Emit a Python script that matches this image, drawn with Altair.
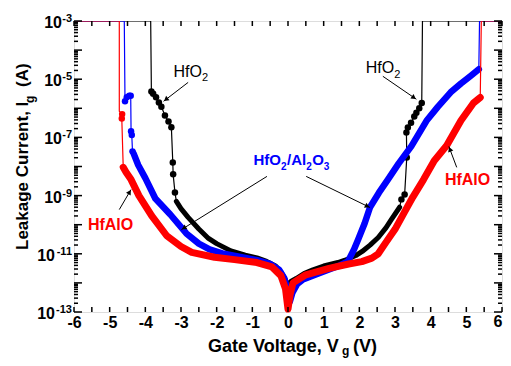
import math
import altair as alt
import pandas as pd

FONT = "Liberation Sans"
W, H = 428, 291
PX_PER_V = W / 12.0
PX_PER_DEC = H / 10.0

# ---------------- values: gate voltage (V), log10 of leakage current (A) -------------
# HfO2 (black)
black_head_v = [-6.0, -3.85]
black_head_e = [-3.0, -3.0]
black_ldot_v = [-3.83, -3.78, -3.70, -3.62, -3.55, -3.45, -3.35, -3.27, -3.23, -3.22, -3.17]
black_ldot_e = [-5.42, -5.50, -5.62, -5.80, -5.95, -6.25, -6.45, -6.65, -7.86, -8.27, -8.89]
black_band_v = [-3.13, -3.0, -2.8, -2.5, -2.25, -2.0, -1.6, -1.2, -0.87, -0.6, -0.35, -0.2, -0.08, 0.0,
                0.08, 0.23, 0.45, 0.7, 1.0, 1.4, 1.6, 1.9, 2.08, 2.3, 2.53, 2.75, 2.9, 3.13]
black_band_e = [-9.2, -9.45, -9.75, -10.15, -10.45, -10.65, -10.9, -11.05, -11.14, -11.26, -11.42, -11.62,
                -11.88, -12.15, -11.95, -11.85, -11.68, -11.55, -11.42, -11.3, -11.22, -11.06, -10.92,
                -10.7, -10.44, -10.1, -9.82, -9.4]
black_rdot_v = [3.18, 3.27, 3.33, 3.32, 3.36, 3.45, 3.54, 3.60, 3.68, 3.75]
black_rdot_e = [-9.13, -8.96, -7.69, -6.83, -6.66, -6.5, -6.28, -6.15, -6.0, -5.82]
black_tail_v = [3.77, 6.0]
black_tail_e = [-3.0, -3.0]

# HfO2/Al2O3 (blue)
blue_head_v = [-6.0, -4.59]
blue_head_e = [-3.0, -3.0]
blue_ldot_v = [-4.57, -4.52, -4.45, -4.41, -4.40, -4.38, -4.36]
blue_ldot_e = [-5.76, -5.62, -5.57, -5.57, -6.79, -6.92, -7.48]
blue_band_v = [-4.33, -4.2, -4.0, -3.72, -3.3, -2.85, -2.5, -2.2, -1.8, -1.3, -0.87, -0.5, -0.25, -0.1,
               0.0, 0.05, 0.12, 0.25, 0.42, 0.8, 1.15, 1.45, 1.68, 1.85, 1.97, 2.15, 2.3, 2.55, 2.8,
               3.1, 3.46, 3.9, 4.2, 4.56, 4.85, 5.11, 5.35]
blue_band_e = [-7.55, -7.95, -8.4, -9.1, -9.65, -10.3, -10.65, -10.85, -11.0, -11.12, -11.22, -11.35,
               -11.55, -11.85, -12.3, -12.65, -12.35, -12.05, -11.88, -11.7, -11.54, -11.4, -11.26,
               -10.85, -10.5, -9.95, -9.4, -8.9, -8.45, -7.9, -7.3, -6.4, -5.95, -5.45, -5.15, -4.9, -4.66]
blue_tail_v = [5.37, 6.0]
blue_tail_e = [-3.0, -3.0]

# HfAlO (red)
red_head_v = [-6.0, -4.73, -4.73]
red_head_e = [-3.0, -3.0, -6.1]
red_ldot_v = [-4.65, -4.66]
red_ldot_e = [-6.2, -6.35]
red_band_v = [-4.62, -4.54, -4.4, -4.18, -3.82, -3.4, -3.0, -2.7, -2.06, -1.5, -0.87, -0.45, -0.2, -0.07,
              0.0, 0.06, 0.14, 0.5, 1.15, 1.7, 2.07, 2.35, 2.53, 2.75, 3.0, 3.25, 3.5, 3.8, 4.1, 4.45,
              4.85, 5.2, 5.39]
red_band_e = [-8.03, -8.2, -8.45, -9.0, -9.7, -10.38, -10.75, -10.95, -11.12, -11.2, -11.3, -11.45,
              -11.75, -12.2, -12.9, -12.4, -12.0, -11.72, -11.5, -11.35, -11.27, -11.15, -11.0, -10.6,
              -10.16, -9.6, -9.05, -8.45, -7.8, -7.28, -6.42, -5.82, -5.63]
red_tail_v = [5.42, 6.0]
red_tail_e = [-3.0, -3.0]

# annotation labels: anchor (left edge, baseline) in data units, pieces (text, is_subscript)
ann_labels = [
    {"v": -3.21, "e": -4.92, "color": "black", "bold": False, "size": 16, "sub": 11,
     "pieces": [("HfO", False), ("2", True)]},
    {"v": 2.18, "e": -4.79, "color": "black", "bold": False, "size": 16, "sub": 11,
     "pieces": [("HfO", False), ("2", True)]},
    {"v": -0.97, "e": -7.95, "color": "#0000ff", "bold": True, "size": 15, "sub": 10,
     "pieces": [("HfO", False), ("2", True), ("/Al", False), ("2", True), ("O", False), ("3", True)]},
    {"v": -5.61, "e": -10.18, "color": "#ff0000", "bold": True, "size": 16, "sub": 11,
     "pieces": [("HfAlO", False)]},
    {"v": 4.40, "e": -8.64, "color": "#ff0000", "bold": True, "size": 16, "sub": 11,
     "pieces": [("HfAlO", False)]},
]

# arrows (start -> tip)
arr_v0 = [-2.80, 2.66, -0.59, 0.51, -4.73, 4.73]
arr_e0 = [-5.11, -4.90, -8.34, -8.34, -9.48, -8.03]
arr_v1 = [-3.49, 3.60, -2.99, 2.30, -4.40, 4.51]
arr_e1 = [-5.76, -5.69, -10.17, -9.41, -8.79, -7.31]

# axis ticks / labels
x_ticks = [i * 0.5 for i in range(-12, 13)]
x_labels = list(range(-6, 6))
x_last_label = [6]
y_major = list(range(-13, -2))
y_label_1 = [-3, -5, -7, -9]
y_label_2 = [-11, -13]

# Arial / Liberation Sans advance widths (em) for laying out the annotation pieces
W_BOLD = {"H": .722, "f": .333, "O": .778, "/": .278, "A": .722, "l": .278, "2": .556, "3": .556}
W_REG = {"H": .722, "f": .278, "O": .778, "/": .278, "A": .667, "l": .222, "2": .556, "3": .556}

# ---------------- chart ----------------
xs = alt.Scale(domain=[-6, 6], nice=False, zero=False)
ys = alt.Scale(type="log", domain=[1e-13, 1e-3], nice=False)
XAX = alt.Axis(values=x_labels, labelExpr="'' + datum.value", ticks=False, domain=False, grid=False,
               title=None, labelFont=FONT, labelFontSize=16, labelFontWeight="bold", labelColor="black",
               labelPadding=2, labelFlush=False, labelOverlap=False)


def X(f="v:Q"):
    return alt.X(f, scale=xs, axis=XAX)


def Y(f="I:Q"):
    return alt.Y(f, scale=ys, axis=None)


def frame(v, e):
    return pd.DataFrame({"v": v, "I": [10.0 ** x for x in e], "i": list(range(len(v)))})


layers = []
series = [
    ("black", black_head_v + black_ldot_v + black_band_v + black_rdot_v + black_tail_v,
     black_head_e + black_ldot_e + black_band_e + black_rdot_e + black_tail_e,
     black_band_v, black_band_e, black_ldot_v + black_rdot_v, black_ldot_e + black_rdot_e, 5),
    ("#0000ff", blue_head_v + blue_ldot_v + blue_band_v + blue_tail_v,
     blue_head_e + blue_ldot_e + blue_band_e + blue_tail_e,
     blue_band_v, blue_band_e, blue_ldot_v, blue_ldot_e, 6.5),
    ("#ff0000", red_head_v + red_ldot_v + red_band_v + red_tail_v,
     red_head_e + red_ldot_e + red_band_e + red_tail_e,
     red_band_v, red_band_e, red_ldot_v, red_ldot_e, 7),
]
for color, tv, te, bv, be, dv, de, bw in series:
    layers.append(alt.Chart(frame(tv, te)).mark_line(color=color, strokeWidth=1.2, clip=True)
                  .encode(x=X(), y=Y(), order="i:Q"))
    layers.append(alt.Chart(frame(bv, be)).mark_line(color=color, strokeWidth=bw, strokeCap="round",
                                                     strokeJoin="round")
                  .encode(x=X(), y=Y(), order="i:Q"))
    layers.append(alt.Chart(frame(dv, de)).mark_point(filled=True, size=42, color=color, opacity=1)
                  .encode(x=X(), y=Y()))

# ticks
xt = pd.DataFrame({"v": x_ticks})
layers.append(alt.Chart(xt).mark_rule(color="black", strokeWidth=1.5)
              .encode(x=X(), y=alt.value(H), y2=alt.value(H - 5)))
layers.append(alt.Chart(xt).mark_rule(color="black", strokeWidth=1.5)
              .encode(x=X(), y=alt.value(0), y2=alt.value(5)))
ymaj = pd.DataFrame({"I": [10.0 ** e for e in y_major]})
ymin = pd.DataFrame({"I": [k * 10.0 ** d for d in range(-13, -3) for k in range(2, 10)]})
for df, ln in [(ymaj, 8), (ymin, 4)]:
    layers.append(alt.Chart(df).mark_rule(color="black", strokeWidth=1.5)
                  .encode(y=Y(), x=alt.value(0), x2=alt.value(ln)))
    layers.append(alt.Chart(df).mark_rule(color="black", strokeWidth=1.5)
                  .encode(y=Y(), x=alt.value(W), x2=alt.value(W - ln)))

# last x label, nudged so it stays inside the page
layers.append(alt.Chart(pd.DataFrame({"v": x_last_label, "t": [str(v) for v in x_last_label]}))
              .mark_text(align="center", baseline="top", dx=-4, font=FONT, fontSize=16, fontWeight="bold",
                         color="black")
              .encode(x=X(), y=alt.value(H + 2), text="t:N"))

# y tick labels 10^n
for exps, base_x in [(y_label_1, -12), (y_label_2, -19)]:
    df = pd.DataFrame({"I": [10.0 ** e for e in exps], "s": [str(e) for e in exps]})
    layers.append(alt.Chart(df).mark_text(text="10", align="right", baseline="alphabetic", dy=7,
                                          font=FONT, fontSize=16, fontWeight="bold", color="black")
                  .encode(y=Y(), x=alt.value(base_x)))
    layers.append(alt.Chart(df).mark_text(align="right", baseline="alphabetic", dy=1, font=FONT,
                                          fontSize=11, fontWeight="bold", color="black")
                  .encode(y=Y(), x=alt.value(-2), text="s:N"))

# annotations: lay the pieces out one after another
rows = []
for lab in ann_labels:
    widths = W_BOLD if lab["bold"] else W_REG
    off = 0.0
    for text, is_sub in lab["pieces"]:
        fs = lab["sub"] if is_sub else lab["size"]
        drop = 4.5 if is_sub else 0.0
        rows.append({"t": text, "v": lab["v"] + off / PX_PER_V,
                     "I": 10.0 ** (lab["e"] - drop / PX_PER_DEC), "fs": fs, "c": lab["color"],
                     "b": lab["bold"]})
        off += sum(widths[ch] for ch in text) * fs + (0.5 if is_sub else 0.0)
ann = pd.DataFrame(rows)
for bold in [False, True]:
    layers.append(alt.Chart(ann[ann["b"] == bold]).mark_text(align="left", baseline="alphabetic", font=FONT,
                                                            fontWeight="bold" if bold else "normal")
                  .encode(x=X(), y=Y(), text="t:N", size=alt.Size("fs:Q", scale=None, legend=None),
                          color=alt.Color("c:N", scale=None, legend=None)))

rows = []
for v0, e0, v1, e1 in zip(arr_v0, arr_e0, arr_v1, arr_e1):
    dx = (v1 - v0) * PX_PER_V
    dy = -(e1 - e0) * PX_PER_DEC
    L = math.hypot(dx, dy)
    ux, uy = dx / L, dy / L
    ang = math.degrees(math.atan2(dx, -dy)) % 360
    hv = v1 - ux * 3 / PX_PER_V
    he = e1 + uy * 3 / PX_PER_DEC
    rows.append({"v": v0, "I": 10.0 ** e0, "v2": v1, "I2": 10.0 ** e1, "hv": hv, "hI": 10.0 ** he, "a": ang})
arr = pd.DataFrame(rows)
layers.append(alt.Chart(arr).mark_rule(color="black", strokeWidth=1)
              .encode(x=X(), y=Y(), x2="v2:Q", y2="I2:Q"))
layers.append(alt.Chart(arr).mark_point(shape="triangle-up", filled=True, size=30, color="black", opacity=1)
              .encode(x=X("hv:Q"), y=Y("hI:Q"), angle=alt.Angle("a:Q", scale=None)))


# axis titles with subscripts
def title_piece(t, px, py, fs, ang):
    return (alt.Chart(pd.DataFrame({"t": [t]}))
            .mark_text(align="left", baseline="alphabetic", font=FONT, fontSize=fs, fontWeight="bold",
                       color="black", angle=ang)
            .encode(text="t:N", x=alt.value(px), y=alt.value(py)))


layers += [
    title_piece("Gate Voltage, V", 134, 331, 18, 0),
    title_piece("g", 268, 334, 12, 0),
    title_piece("(V)", 279, 331, 18, 0),
    title_piece("Leakage Current, I", -46, 229, 17, 270),
    title_piece("g", -40, 82, 12, 270),
    title_piece("(A)", -46, 66, 17, 270),
]

chart = (alt.layer(*layers)
         .properties(width=W, height=H, padding={"left": 66, "top": 13, "right": 1, "bottom": 46},
                     autosize=alt.AutoSizeParams(type="none"))
         .configure_view(stroke="black", strokeWidth=2)
         .configure(background="white"))

chart.save("out.html", embed_options={"renderer": "svg", "actions": False})
